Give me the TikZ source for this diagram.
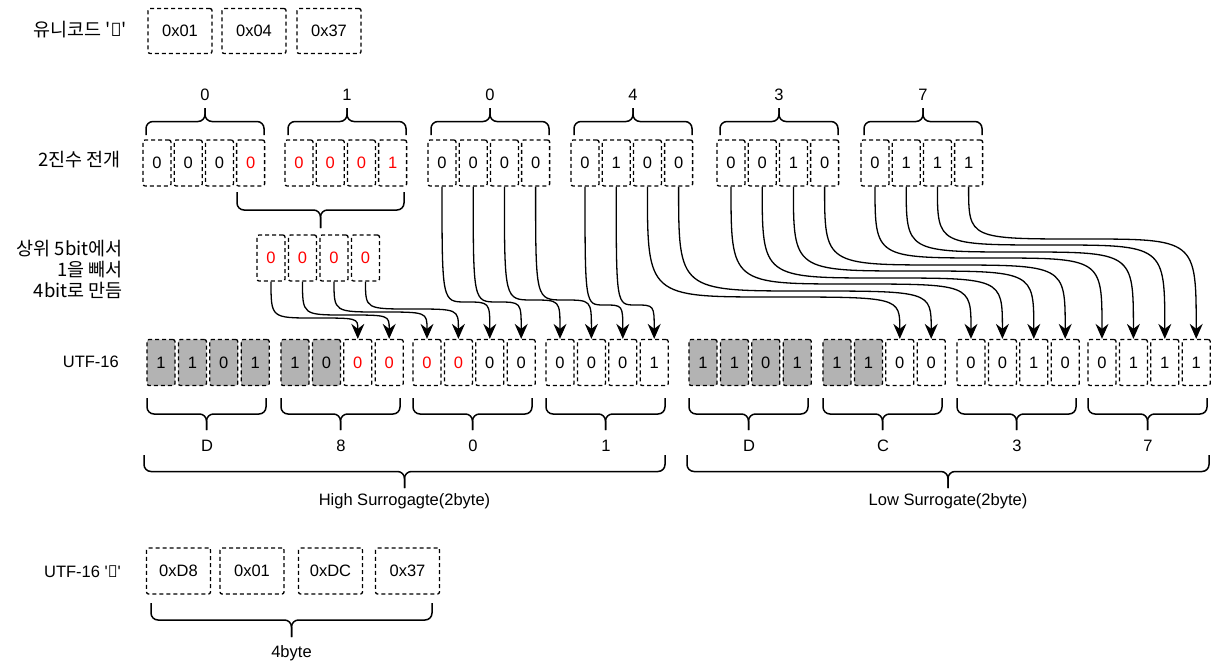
\documentclass[tikz,border=0pt]{standalone}
\usepackage{fontspec}
\setmainfont{Liberation Sans}
\newfontfamily\kr{Noto Sans CJK KR}
\newfontfamily\dsr{Noto Sans}
\usetikzlibrary{arrows.meta,calc}
\definecolor{boxgray}{HTML}{B3B3B3}
\definecolor{bitred}{HTML}{FF0000}
\newcommand\yee{{\dsr\symbol{"10437}}}
% curly bracket: x1, x2, y of the ends, height (negative = points up)
\newcommand\curly[4]{%
  \draw[braceline] (#1,#3) |- ({(#1+#2)/2},{#3+(#4)/2}) -- ({(#1+#2)/2},{#3+(#4)});
  \draw[braceline] (#2,#3) |- ({(#1+#2)/2},{#3+(#4)/2}) -- ({(#1+#2)/2},{#3+(#4)});
}

\begin{document}
\begin{tikzpicture}
[x=1pt,y=-1pt,
  every node/.style={font=\fontsize{16.5}{20}\selectfont},
  bitbox/.style={draw,dash pattern=on 4pt off 3pt,line width=1.3pt,rounded corners=2pt,
    minimum width=28pt,minimum height=46pt,inner sep=0pt},
  hexbox/.style={bitbox,minimum width=64pt,minimum height=45pt},
  braceline/.style={line width=1.5pt,rounded corners=7pt},
  flow/.style={line width=1.3pt,-{Stealth[length=15pt,width=13pt,inset=5pt]}},
  tag/.style={anchor=east,align=right,inner sep=0pt},
  krtext/.style={font=\kr\fontsize{18.5}{21}\selectfont}]
\useasboundingbox (0,0) rectangle (1214,669);

%% code point
\node[tag,krtext] (uni) at (127,30) {유니코드 \textquotesingle\yee\textquotesingle};
\foreach \hx/\hv [count=\i] in {180/0x01, 254/0x04, 329/0x37}
  \node[hexbox] (h\i) at (\hx,31) {\hv};

%% binary digits
\node[tag,krtext] (bin) at (121,160) {2진수 전개};
\foreach \g/\gx/\bits in {
  1/143/{0/black,0/black,0/black,0/bitred},
  2/285/{0/bitred,0/bitred,0/bitred,1/bitred},
  3/428/{0/black,0/black,0/black,0/black},
  4/571/{0/black,1/black,0/black,0/black},
  5/717/{0/black,0/black,1/black,0/black},
  6/861/{0/black,1/black,1/black,1/black}}
{
  \foreach \v/\tc [count=\i] in \bits
    \node[bitbox,text=\tc] (b\g\i) at ({\gx+14+31.2*(\i-1)},163) {\v};
}
\foreach \bx/\bl [count=\i] in {143/0, 285/1, 428/0, 571/4, 717/3, 861/7}
{
  \curly{\bx+3}{\bx+121}{135}{-27}
  \node (nib\i) at (\bx+62,95) {\bl};
}
\curly{237}{404}{192}{36}

%% upper 5 bits minus 1
\node[tag,krtext] (minus) at (123,269) {상위 5bit에서\\1을 빼서\\4bit로 만듬};
\foreach \i in {1,...,4}
  \node[bitbox,text=bitred] (m\i) at ({271+31.5*(\i-1)},258) {0};

%% utf-16 bits
\node[tag] (utf) at (119,362) {UTF-16};
\foreach \g/\gx/\bits in {
  1/147/{1/boxgray/black,1/boxgray/black,0/boxgray/black,1/boxgray/black},
  2/281/{1/boxgray/black,0/boxgray/black,0/white/bitred,0/white/bitred},
  3/413/{0/white/bitred,0/white/bitred,0/white/black,0/white/black},
  4/546/{0/white/black,0/white/black,0/white/black,1/white/black},
  5/689/{1/boxgray/black,1/boxgray/black,0/boxgray/black,1/boxgray/black},
  6/823/{1/boxgray/black,1/boxgray/black,0/white/black,0/white/black},
  7/957/{0/white/black,0/white/black,1/white/black,0/white/black},
  8/1088/{0/white/black,1/white/black,1/white/black,1/white/black}}
{
  \foreach \v/\fc/\tc [count=\i] in \bits
    \node[bitbox,fill=\fc,text=\tc] (u\g\i) at ({\gx+14+31.4*(\i-1)},362.5) {\v};
}
\foreach \bx/\bl [count=\i] in {147/D, 281/8, 413/0, 546/1, 689/D, 823/C, 957/3, 1088/7}
{
  \curly{\bx}{\bx+119}{398}{32}
  \node (hex\i) at (\bx+60,446) {\bl};
}
\curly{144}{665}{455}{33}
\node (high) at (404.5,501) {High Surrogagte(2byte)};
\curly{687}{1209}{455}{33}
\node (low) at (948,501) {Low Surrogate(2byte)};

%% bit moves
\foreach \s/\t/\h in {m1/u23/318, m2/u24/315, m3/u31/312, m4/u32/309,
  b31/u33/302, b32/u34/302, b33/u41/300, b34/u42/300, b41/u43/305, b42/u44/305,
  b43/u63/297, b44/u64/291, b51/u71/284, b52/u72/278, b53/u73/271, b54/u74/265,
  b61/u81/258, b62/u82/252, b63/u83/245, b64/u84/239}
{
  \draw[flow] (\s.south) .. controls (\s.south |- 0,\h)
    .. ($(\s.south |- 0,\h)!.5!(\t.north |- 0,\h)$)
    .. controls (\t.north |- 0,\h) .. (\t.north);
}

%% utf-16 bytes
\node[tag] (utfw) at (121,572) {UTF-16 \textquotesingle\yee\textquotesingle};
\foreach \hx/\hv [count=\i] in {178.5/0xD8, 252/0x01, 330.5/0xDC, 407.5/0x37}
  \node[hexbox,minimum height=46pt] (w\i) at (\hx,571) {\hv};
\curly{151}{432}{603}{34}
\node (four) at (291.5,653) {4byte};
\end{tikzpicture}
\end{document}
